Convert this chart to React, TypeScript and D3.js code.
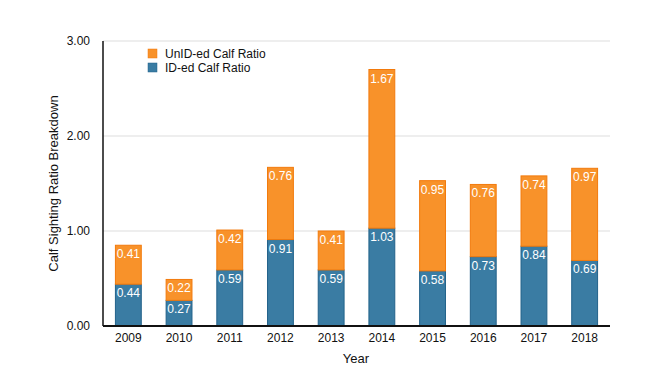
import React, { useEffect, useRef } from 'react';
import * as d3 from 'd3';

const years = ['2009', '2010', '2011', '2012', '2013', '2014', '2015', '2016', '2017', '2018'];
const idRatio = [0.44, 0.27, 0.59, 0.91, 0.59, 1.03, 0.58, 0.73, 0.84, 0.69];
const unidRatio = [0.41, 0.22, 0.42, 0.76, 0.41, 1.67, 0.95, 0.76, 0.74, 0.97];
const yTicks = [0, 1, 2, 3];

const width = 650;
const height = 386;
const font = 'Liberation Sans, Arial, Helvetica, sans-serif';

const App: React.FC = () => {
  const svgRef = useRef<SVGSVGElement>(null);

  useEffect(() => {
    if (!svgRef.current) return;
    const svg = d3.select(svgRef.current);
    svg.selectAll('*').remove();

    const left = 103, right = 610, top = 41, bottom = 326;

    const x = d3.scaleBand<string>().domain(years).range([left, right]).paddingInner(0.49).paddingOuter(0.245);
    const y = d3.scaleLinear().domain([0, 3]).range([bottom, top]);

    // gridlines
    svg.append('g')
      .selectAll('line')
      .data(yTicks.filter(t => t > 0))
      .enter()
      .append('line')
      .attr('x1', left)
      .attr('x2', right)
      .attr('y1', d => y(d))
      .attr('y2', d => y(d))
      .style('stroke', '#e8e8e8')
      .style('stroke-width', 1.5);

    const rows = years.map((yr, i) => ({ year: yr, id: idRatio[i], unid: unidRatio[i] }));

    const bars = svg.append('g').selectAll('.bar').data(rows).enter().append('g');

    bars.append('rect')
      .attr('x', d => x(d.year)!)
      .attr('width', x.bandwidth())
      .attr('y', d => y(d.id))
      .attr('height', d => bottom - y(d.id))
      .style('fill', '#3a7ca3')
      .style('stroke', '#22628a')
      .style('stroke-width', 1);

    bars.append('rect')
      .attr('x', d => x(d.year)!)
      .attr('width', x.bandwidth())
      .attr('y', d => y(d.id + d.unid))
      .attr('height', d => y(d.id) - y(d.id + d.unid))
      .style('fill', '#f8922a')
      .style('stroke', '#f27a0c')
      .style('stroke-width', 1);

    bars.append('text')
      .attr('x', d => x(d.year)! + x.bandwidth() / 2)
      .attr('y', d => y(d.id) + 13)
      .attr('text-anchor', 'middle')
      .style('font-family', font)
      .style('font-size', '12px')
      .style('fill', '#fff')
      .text(d => d.id.toFixed(2));

    bars.append('text')
      .attr('x', d => x(d.year)! + x.bandwidth() / 2)
      .attr('y', d => y(d.id + d.unid) + 13)
      .attr('text-anchor', 'middle')
      .style('font-family', font)
      .style('font-size', '12px')
      .style('fill', '#fff')
      .text(d => d.unid.toFixed(2));

    // axes lines
    svg.append('line')
      .attr('x1', left).attr('x2', left).attr('y1', top).attr('y2', bottom)
      .style('stroke', '#111').style('stroke-width', 1.5);
    svg.append('line')
      .attr('x1', left).attr('x2', right).attr('y1', bottom).attr('y2', bottom)
      .style('stroke', '#111').style('stroke-width', 2);

    // y tick labels
    svg.append('g')
      .selectAll('text')
      .data(yTicks)
      .enter()
      .append('text')
      .attr('x', 90)
      .attr('y', d => y(d) + 4)
      .attr('text-anchor', 'end')
      .style('font-family', font)
      .style('font-size', '12px')
      .style('fill', '#111')
      .text(d => d.toFixed(2));

    // x tick labels
    svg.append('g')
      .selectAll('text')
      .data(years)
      .enter()
      .append('text')
      .attr('x', d => x(d)! + x.bandwidth() / 2)
      .attr('y', 342)
      .attr('text-anchor', 'middle')
      .style('font-family', font)
      .style('font-size', '12px')
      .style('fill', '#111')
      .text(d => d);

    // axis titles
    svg.append('text')
      .attr('x', 356)
      .attr('y', 363)
      .attr('text-anchor', 'middle')
      .style('font-family', font)
      .style('font-size', '13px')
      .style('fill', '#111')
      .text('Year');

    svg.append('text')
      .attr('transform', `translate(58, ${(top + bottom) / 2}) rotate(-90)`)
      .attr('text-anchor', 'middle')
      .style('font-family', font)
      .style('font-size', '13px')
      .style('fill', '#111')
      .text('Calf Sighting Ratio Breakdown');

    // legend
    const legend = [
      { label: 'UnID-ed Calf Ratio', color: '#f8922a', stroke: '#f27a0c' },
      { label: 'ID-ed Calf Ratio', color: '#3a7ca3', stroke: '#22628a' },
    ];
    const lg = svg.append('g').selectAll('g').data(legend).enter().append('g')
      .attr('transform', (_d, i) => `translate(148, ${49 + i * 14})`);
    lg.append('rect')
      .attr('width', 9).attr('height', 9)
      .style('fill', d => d.color)
      .style('stroke', d => d.stroke)
      .style('stroke-width', 0.5);
    lg.append('text')
      .attr('x', 17)
      .attr('y', 9)
      .style('font-family', font)
      .style('font-size', '12px')
      .style('fill', '#111')
      .text(d => d.label);
  }, []);

  return <svg ref={svgRef} width={width} height={height} style={{ display: 'block', position: 'absolute', left: 0, top: 0, background: '#fff' }} />;
};

export default App;
